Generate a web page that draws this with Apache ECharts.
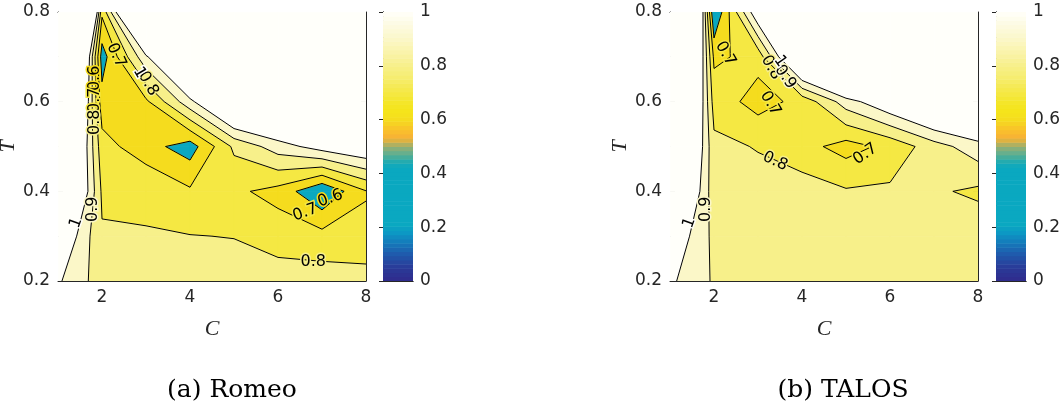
<!DOCTYPE html>
<html><head><meta charset="utf-8">
<script src="https://cdn.jsdelivr.net/npm/echarts@6/dist/echarts.min.js"></script>
<style>html,body{margin:0;padding:0;background:#fff;}#c{width:1062px;height:405px;}</style>
</head><body><div id="c"></div>
<script>
// ---------------- data ----------------
const cValues = [1, 2, 3, 4, 5, 6, 7, 8];
const tValues = [0.2, 0.3, 0.4, 0.5, 0.6, 0.7, 0.8];
const levels = [0.6, 0.7, 0.8, 0.9, 1.0];
// rows follow tValues (0.2 first), columns follow cValues
const romeoZ = [
  [1.015, 0.848, 0.85, 0.85, 0.85, 0.85, 0.85, 0.85],
  [1.14, 0.81, 0.803, 0.803, 0.797, 0.755, 0.736, 0.718],
  [1.46, 0.784, 0.79, 0.715, 0.72, 0.666, 0.504, 0.695],
  [1.50, 0.74, 0.64, 0.55, 0.82, 0.95, 1.05, 1.11],
  [1.80, 0.64, 0.68, 0.97, 1.27, 1.33, 1.40, 1.50],
  [2.13, 0.55, 0.98, 1.40, 1.80, 1.80, 1.80, 1.80],
  [3.30, 0.72, 1.60, 2.00, 2.00, 2.00, 2.00, 2.00]
];
const talosZ = [
  [1.02, 0.888, 0.86, 0.86, 0.86, 0.86, 0.86, 0.86],
  [1.10, 0.875, 0.85, 0.85, 0.85, 0.85, 0.85, 0.87],
  [1.34, 0.84, 0.84, 0.847, 0.81, 0.818, 0.815, 0.78],
  [1.50, 0.825, 0.794, 0.737, 0.66, 0.727, 0.855, 0.96],
  [1.73, 0.757, 0.66, 0.73, 0.95, 1.10, 1.25, 1.30],
  [1.96, 0.68, 0.734, 1.30, 1.60, 1.80, 1.80, 1.80],
  [2.53, 0.49, 1.10, 2.00, 2.00, 2.00, 2.00, 2.00]
];
// contour labels: [C, T, text, rotation in degrees]
const romeoLabels = [
  [1.84, 0.652, '0.6', 90], [1.84, 0.603, '0.7', 90], [1.84, 0.554, '0.8', 90],
  [2.32, 0.703, '0.7', -65], [3.05, 0.640, '0.8', -60], [2.85, 0.665, '1', -60],
  [1.80, 0.360, '0.9', 90], [1.41, 0.330, '1', 70],
  [6.62, 0.353, '0.7', 20], [7.19, 0.384, '0.6', 20], [6.80, 0.242, '0.8', 0]
];
const talosLabels = [
  [2.26, 0.707, '0.7', -60], [3.30, 0.676, '0.8', -60], [3.62, 0.655, '0.9', -55], [3.50, 0.690, '1', -55],
  [3.28, 0.596, '0.7', -60], [3.39, 0.467, '0.8', -25], [5.44, 0.483, '0.7', 35],
  [1.82, 0.360, '0.9', 90], [1.44, 0.330, '1', 70]
];
const xTicks = [2, 4, 6, 8];
const yTicks = [0.2, 0.4, 0.6, 0.8];
const barTicks = [0, 0.2, 0.4, 0.6, 0.8, 1];
const barSteps = 64;
const captions = ['(a) Romeo', '(b) TALOS'];
const cmapStops = [
  [0.00, '#302a8c'], [0.05, '#2a3a98'], [0.10, '#1f5aac'], [0.15, '#1380bc'],
  [0.18, '#0c98c4'], [0.21, '#0aa8c1'], [0.42, '#0aa8c0'], [0.44, '#18aab6'],
  [0.46, '#44ad9c'], [0.48, '#6eb08a'], [0.50, '#96ae72'], [0.52, '#d8b244'],
  [0.54, '#f9b433'], [0.57, '#f8c628'], [0.60, '#f5dc1e'], [0.63, '#f5e41a'],
  [0.66, '#f4e626'], [0.70, '#f5e843'], [0.76, '#f6ed72'], [0.80, '#f7f08a'],
  [0.86, '#faf4b0'], [0.90, '#fbf7c8'], [0.96, '#fdfbe6'], [1.00, '#fffffa']
];

// ---------------- helpers ----------------
function hex2rgb(h){ return [parseInt(h.slice(1,3),16), parseInt(h.slice(3,5),16), parseInt(h.slice(5,7),16)]; }
function cmap(v){
  v = Math.max(0, Math.min(1, v));
  for (let i = 1; i < cmapStops.length; i++) {
    if (v <= cmapStops[i][0]) {
      const a = cmapStops[i-1], b = cmapStops[i];
      const t = (v - a[0]) / (b[0] - a[0]);
      const ca = hex2rgb(a[1]), cb = hex2rgb(b[1]);
      return 'rgb(' + ca.map((x, k) => Math.round(x + t * (cb[k] - x))).join(',') + ')';
    }
  }
  return cmapStops[cmapStops.length-1][1];
}
const bands = [[-Infinity, levels[0]]];
for (let i = 0; i < levels.length; i++) bands.push([levels[i], i + 1 < levels.length ? levels[i+1] : Infinity]);
const bandColors = bands.map((b, i) => i === 0 ? cmap(0.4) : cmap(b[0]));

function clipPoly(poly, level, keepAbove){
  const out = [];
  const inside = p => keepAbove ? p[2] >= level : p[2] <= level;
  for (let i = 0; i < poly.length; i++) {
    const cur = poly[i], prev = poly[(i + poly.length - 1) % poly.length];
    const ic = inside(cur), ip = inside(prev);
    if (ic !== ip) {
      const t = (level - prev[2]) / (cur[2] - prev[2]);
      out.push([prev[0] + t * (cur[0] - prev[0]), prev[1] + t * (cur[1] - prev[1]), level]);
    }
    if (ic) out.push(cur);
  }
  return out;
}
function cellCorners(Z, i, j){
  return [
    [cValues[i], tValues[j], Z[j][i]],
    [cValues[i+1], tValues[j], Z[j][i+1]],
    [cValues[i+1], tValues[j+1], Z[j+1][i+1]],
    [cValues[i], tValues[j+1], Z[j+1][i]]
  ];
}
const cellData = [];
for (let j = 0; j < tValues.length - 1; j++)
  for (let i = 0; i < cValues.length - 1; i++) cellData.push([i, j]);

function fillRenderer(Z){
  return function(params, api){
    const i = api.value(0), j = api.value(1);
    const quad = cellCorners(Z, i, j);
    const children = [];
    bands.forEach((b, k) => {
      let p = quad;
      if (isFinite(b[0])) p = clipPoly(p, b[0], true);
      if (p.length >= 3 && isFinite(b[1])) p = clipPoly(p, b[1], false);
      if (p.length >= 3) {
        children.push({type: 'polygon', shape: {points: p.map(q => api.coord([q[0], q[1]]))},
          style: {fill: bandColors[k], stroke: bandColors[k], lineWidth: 0.7}});
      }
    });
    return {type: 'group', children: children};
  };
}
function lineRenderer(Z){
  return function(params, api){
    const i = api.value(0), j = api.value(1);
    const q = cellCorners(Z, i, j);
    const children = [];
    levels.forEach(L => {
      const pts = [];
      for (let e = 0; e < 4; e++) {
        const a = q[e], b = q[(e + 1) % 4];
        if ((a[2] >= L) !== (b[2] >= L)) {
          const t = (L - a[2]) / (b[2] - a[2]);
          pts.push([a[0] + t * (b[0] - a[0]), a[1] + t * (b[1] - a[1])]);
        }
      }
      for (let s = 0; s + 1 < pts.length; s += 2) {
        const p1 = api.coord(pts[s]), p2 = api.coord(pts[s+1]);
        children.push({type: 'line', shape: {x1: p1[0], y1: p1[1], x2: p2[0], y2: p2[1]},
          style: {stroke: '#000', lineWidth: 1}});
      }
    });
    return {type: 'group', children: children};
  };
}
function labelRenderer(labels){
  return function(params, api){
    const lb = labels[params.dataIndex];
    const p = api.coord([api.value(0), api.value(1)]);
    const lv = parseFloat(lb[2]);
    return {type: 'text', x: p[0], y: p[1], rotation: lb[3] * Math.PI / 180,
      style: {text: lb[2], fill: '#000', font: '16px "DejaVu Sans"', align: 'center', verticalAlign: 'middle',
        stroke: cmap(lv), lineWidth: 3}};
  };
}
function barRenderer(params, api){
  const lo = api.value(0), hi = api.value(1);
  const p1 = api.coord([0, hi]), p2 = api.coord([1, lo]);
  return {type: 'rect', shape: {x: p1[0], y: p1[1], width: p2[0] - p1[0], height: p2[1] - p1[1] + 0.5},
    style: {fill: cmap((lo + hi) / 2)}};
}
const barData = [];
for (let k = 0; k < barSteps; k++) barData.push([k / barSteps, (k + 1) / barSteps]);

// ---------------- layout ----------------
const axisColor = '#262626';
const tickFont = {color: axisColor, fontSize: 17, fontFamily: 'DejaVu Sans'};
const plotLeft = [58, 670], plotW = 308, gridTop = 12, plotH = 269;
const barLeft = [383, 996], barW = 30;

const grid = [], xAxis = [], yAxis = [], series = [];
[0, 1].forEach(p => {
  const g = p * 2, gb = p * 2 + 1;
  grid.push({left: plotLeft[p], top: gridTop, width: plotW, height: plotH, containLabel: false, outerBoundsMode: 'none'});
  grid.push({left: barLeft[p], top: gridTop, width: barW, height: plotH, containLabel: false, outerBoundsMode: 'none'});
  const baseX = {type: 'value', gridIndex: g, min: 1, max: 8, splitLine: {show: false},
    axisLine: {show: true, lineStyle: {color: axisColor, width: 1}}};
  const xb = xAxis.length;
  xAxis.push(Object.assign({}, baseX, {position: 'bottom',
    axisTick: {show: true, inside: true, length: 5, customValues: xTicks, lineStyle: {color: axisColor}},
    axisLabel: Object.assign({show: true, customValues: xTicks, margin: 8}, tickFont),
    name: 'C', nameLocation: 'middle', nameGap: 37,
    nameTextStyle: {fontFamily: 'Liberation Serif', fontStyle: 'italic', fontSize: 22, color: axisColor}}));
  xAxis.push(Object.assign({}, baseX, {position: 'top',
    axisTick: {show: true, inside: true, length: 5, customValues: xTicks, lineStyle: {color: axisColor}},
    axisLabel: {show: false}}));
  const baseY = {type: 'value', gridIndex: g, min: 0.2, max: 0.8, splitLine: {show: false},
    axisLine: {show: true, lineStyle: {color: axisColor, width: 1}}};
  const yb = yAxis.length;
  yAxis.push(Object.assign({}, baseY, {position: 'left',
    axisTick: {show: true, inside: true, length: 5, customValues: yTicks, lineStyle: {color: axisColor}},
    axisLabel: Object.assign({show: true, customValues: yTicks, margin: 8, formatter: v => (+v).toFixed(1)}, tickFont),
    name: 'T', nameLocation: 'middle', nameGap: 31,
    nameTextStyle: {fontFamily: 'Liberation Serif', fontStyle: 'italic', fontSize: 22, color: axisColor}}));
  yAxis.push(Object.assign({}, baseY, {position: 'right',
    axisTick: {show: true, inside: true, length: 5, customValues: yTicks, lineStyle: {color: axisColor}},
    axisLabel: {show: false}}));
  const bx = xAxis.length;
  xAxis.push({type: 'value', gridIndex: gb, min: 0, max: 1, position: 'bottom', splitLine: {show: false},
    axisLine: {show: true, lineStyle: {color: axisColor}}, axisTick: {show: false}, axisLabel: {show: false}});
  xAxis.push({type: 'value', gridIndex: gb, min: 0, max: 1, position: 'top', splitLine: {show: false},
    axisLine: {show: true, lineStyle: {color: axisColor}}, axisTick: {show: false}, axisLabel: {show: false}});
  const by = yAxis.length;
  yAxis.push({type: 'value', gridIndex: gb, min: 0, max: 1, position: 'right', splitLine: {show: false},
    axisLine: {show: true, lineStyle: {color: axisColor}},
    axisTick: {show: true, inside: true, length: 4, customValues: barTicks, lineStyle: {color: axisColor}},
    axisLabel: Object.assign({show: true, customValues: barTicks, margin: 7, formatter: v => String(+(+v).toFixed(1))}, tickFont)});
  yAxis.push({type: 'value', gridIndex: gb, min: 0, max: 1, position: 'left', splitLine: {show: false},
    axisLine: {show: true, lineStyle: {color: axisColor}}, axisTick: {show: false}, axisLabel: {show: false}});

  const Z = p === 0 ? romeoZ : talosZ;
  const labels = p === 0 ? romeoLabels : talosLabels;
  series.push({type: 'custom', xAxisIndex: xb, yAxisIndex: yb, data: cellData, renderItem: fillRenderer(Z), clip: true, silent: true, z: 1});
  series.push({type: 'custom', xAxisIndex: xb, yAxisIndex: yb, data: cellData, renderItem: lineRenderer(Z), clip: true, silent: true, z: 2});
  series.push({type: 'custom', xAxisIndex: xb, yAxisIndex: yb, data: labels.map(l => [l[0], l[1]]), renderItem: labelRenderer(labels), clip: false, silent: true, z: 3});
  series.push({type: 'custom', xAxisIndex: bx, yAxisIndex: by, data: barData, renderItem: barRenderer, clip: true, silent: true, z: 1});
});

const chart = echarts.init(document.getElementById('c'), null, {renderer: 'canvas'});
chart.setOption({
  animation: false,
  backgroundColor: '#fff',
  grid: grid, xAxis: xAxis, yAxis: yAxis, series: series,
  graphic: [
    {type: 'text', x: 232, y: 390, style: {text: captions[0], font: '25px "DejaVu Serif"', fill: '#000', align: 'center', verticalAlign: 'middle'}},
    {type: 'text', x: 843, y: 390, style: {text: captions[1], font: '25px "DejaVu Serif"', fill: '#000', align: 'center', verticalAlign: 'middle'}}
  ]
});
</script></body></html>
